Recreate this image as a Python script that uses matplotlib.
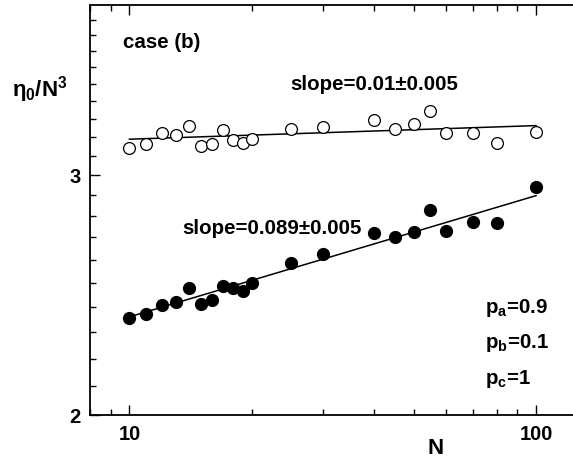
import numpy as np
import matplotlib
matplotlib.use("Agg")
import matplotlib.pyplot as plt
from matplotlib.ticker import FixedLocator, NullFormatter, FixedFormatter

plt.rcParams['font.family'] = ['Liberation Sans', 'DejaVu Sans']
plt.rcParams['font.weight'] = 'bold'
plt.rcParams['axes.labelweight'] = 'bold'
plt.rcParams['mathtext.fontset'] = 'custom'
plt.rcParams['mathtext.rm'] = 'Liberation Sans:bold'
plt.rcParams['mathtext.it'] = 'Liberation Sans:bold'
plt.rcParams['mathtext.bf'] = 'Liberation Sans:bold'

# data
N = [10, 11, 12, 13, 14, 15, 16, 17, 18, 19, 20, 25, 30, 40, 45, 50, 55, 60, 70, 80, 100]
eta_open = [3.142, 3.160, 3.221, 3.213, 3.259, 3.153, 3.163, 3.238, 3.182, 3.167, 3.191,
            3.244, 3.257, 3.293, 3.246, 3.270, 3.342, 3.221, 3.224, 3.167, 3.228]
eta_filled = [2.355, 2.372, 2.409, 2.422, 2.478, 2.411, 2.429, 2.489, 2.478, 2.466, 2.501,
              2.588, 2.625, 2.722, 2.703, 2.726, 2.828, 2.730, 2.772, 2.768, 2.941]

# power-law fits: value at N=10 and slope
fit_open = (3.188, 0.01)
fit_filled = (2.361, 0.089)

x_ticks = [10, 100]
x_minor = [8, 9, 20, 30, 40, 50, 60, 70, 80, 90]
y_ticks = [2, 3]
y_minor = [2.1, 2.2, 2.3, 2.4, 2.5, 2.6, 2.7, 2.8, 2.9,
           3.1, 3.2, 3.3, 3.4, 3.5, 3.6, 3.7, 3.8, 3.9]

fig = plt.figure(figsize=(5.73, 4.59), dpi=100)
ax = fig.add_axes([90 / 573, 1 - 415 / 459, 1 - 90 / 573, 410 / 459])

nn = np.array([10, 100])
ax.plot(nn, fit_open[0] * (nn / 10.0) ** fit_open[1], '-k', lw=1.1)
ax.plot(nn, fit_filled[0] * (nn / 10.0) ** fit_filled[1], '-k', lw=1.1)
ax.plot(N, eta_open, 'o', mfc='white', mec='black', mew=0.9, ms=8.5)
ax.plot(N, eta_filled, 'o', mfc='black', mec='black', ms=8.5)

ax.set_xscale('log')
ax.set_yscale('log')
ax.set_xlim(8, 123.3)
ax.set_ylim(2, 4)

ax.xaxis.set_major_locator(FixedLocator(x_ticks))
ax.xaxis.set_major_formatter(FixedFormatter([str(t) for t in x_ticks]))
ax.xaxis.set_minor_locator(FixedLocator(x_minor))
ax.xaxis.set_minor_formatter(NullFormatter())
ax.yaxis.set_major_locator(FixedLocator(y_ticks))
ax.yaxis.set_major_formatter(FixedFormatter([str(t) for t in y_ticks]))
ax.yaxis.set_minor_locator(FixedLocator(y_minor))
ax.yaxis.set_minor_formatter(NullFormatter())

ax.spines['right'].set_visible(False)
for s in ['left', 'top', 'bottom']:
    ax.spines[s].set_linewidth(1.3)
ax.tick_params(which='both', direction='in', top=True, right=False, width=1.0)
ax.tick_params(which='major', length=7, labelsize=14.5, pad=7)
ax.tick_params(which='minor', length=4)

ax.set_xlabel('N', fontsize=16, labelpad=0)
ax.xaxis.set_label_coords((436 - 90) / 483, -0.055)

fs = 14.8
fig.text(123 / 573, 1 - 43 / 459, 'case (b)', fontsize=fs, va='center')
fig.text(12 / 573, 1 - 90 / 459, r'$\eta_0$/N$^3$', fontsize=16, va='center', ha='left')
fig.text(290 / 573, 1 - 84 / 459, 'slope=0.01\u00b10.005', fontsize=fs, va='center')
fig.text(182 / 573, 1 - 228 / 459, 'slope=0.089\u00b10.005', fontsize=fs, va='center')
fig.text(485 / 573, 1 - 308 / 459, r'p$_\mathrm{a}$=0.9', fontsize=fs, va='center')
fig.text(485 / 573, 1 - 343 / 459, r'p$_\mathrm{b}$=0.1', fontsize=fs, va='center')
fig.text(485 / 573, 1 - 379 / 459, r'p$_\mathrm{c}$=1', fontsize=fs, va='center')

fig.savefig('out.png', dpi=100)
